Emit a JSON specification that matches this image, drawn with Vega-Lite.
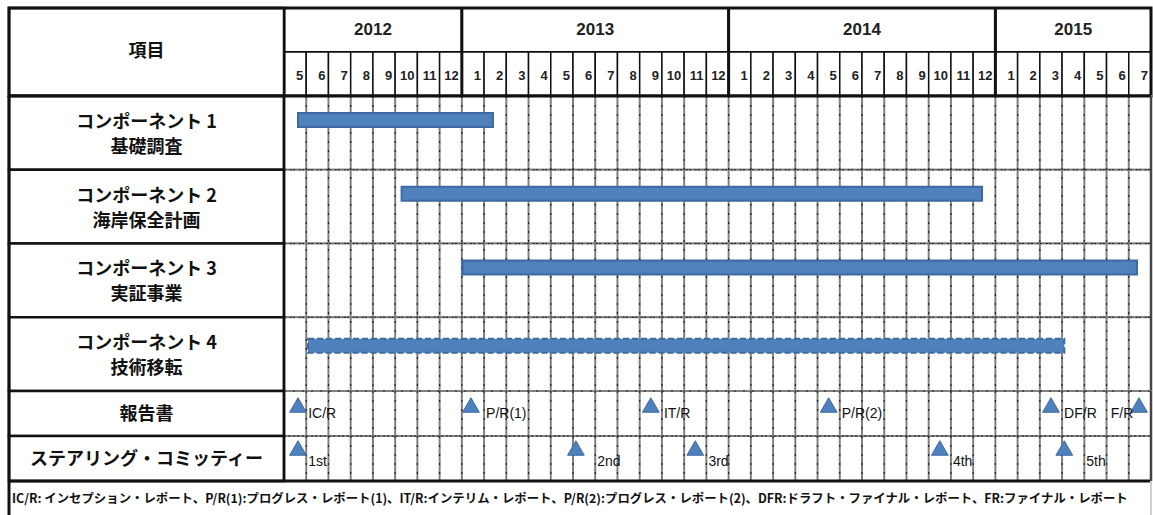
{
  "$schema": "https://vega.github.io/schema/vega-lite/v6.json",
  "padding": {"left": 7, "top": 6, "right": 3, "bottom": 0},
  "background": "white",
  "spacing": 0,
  "bounds": "flush",
  "config": {"view": {"stroke": null}, "concat": {"spacing": 0}},
  "datasets": {
    "frame": [{"part": "frame"}],
    "header": [{"t": "項目"}],
    "years": [
      {"yr": "2012", "s": 0, "e": 8, "c": 4},
      {"yr": "2013", "s": 8, "e": 20, "c": 14},
      {"yr": "2014", "s": 20, "e": 32, "c": 26},
      {"yr": "2015", "s": 32, "e": 39, "c": 35.5}
    ],
    "months": [
      {"m": "5", "s": 0, "e": 1}, {"m": "6", "s": 1, "e": 2}, {"m": "7", "s": 2, "e": 3}, {"m": "8", "s": 3, "e": 4},
      {"m": "9", "s": 4, "e": 5}, {"m": "10", "s": 5, "e": 6}, {"m": "11", "s": 6, "e": 7}, {"m": "12", "s": 7, "e": 8},
      {"m": "1", "s": 8, "e": 9}, {"m": "2", "s": 9, "e": 10}, {"m": "3", "s": 10, "e": 11}, {"m": "4", "s": 11, "e": 12},
      {"m": "5", "s": 12, "e": 13}, {"m": "6", "s": 13, "e": 14}, {"m": "7", "s": 14, "e": 15}, {"m": "8", "s": 15, "e": 16},
      {"m": "9", "s": 16, "e": 17}, {"m": "10", "s": 17, "e": 18}, {"m": "11", "s": 18, "e": 19}, {"m": "12", "s": 19, "e": 20},
      {"m": "1", "s": 20, "e": 21}, {"m": "2", "s": 21, "e": 22}, {"m": "3", "s": 22, "e": 23}, {"m": "4", "s": 23, "e": 24},
      {"m": "5", "s": 24, "e": 25}, {"m": "6", "s": 25, "e": 26}, {"m": "7", "s": 26, "e": 27}, {"m": "8", "s": 27, "e": 28},
      {"m": "9", "s": 28, "e": 29}, {"m": "10", "s": 29, "e": 30}, {"m": "11", "s": 30, "e": 31}, {"m": "12", "s": 31, "e": 32},
      {"m": "1", "s": 32, "e": 33}, {"m": "2", "s": 33, "e": 34}, {"m": "3", "s": 34, "e": 35}, {"m": "4", "s": 35, "e": 36},
      {"m": "5", "s": 36, "e": 37}, {"m": "6", "s": 37, "e": 38}, {"m": "7", "s": 38, "e": 39}
    ],
    "rows": [
      {"row": "c1", "label": "コンポーネント 1\n基礎調査"},
      {"row": "c2", "label": "コンポーネント 2\n海岸保全計画"},
      {"row": "c3", "label": "コンポーネント 3\n実証事業"},
      {"row": "c4", "label": "コンポーネント 4\n技術移転"}
    ],
    "tasks": [
      {"row": "c1", "s": 0.63, "e": 9.4},
      {"row": "c2", "s": 5.29, "e": 31.4},
      {"row": "c3", "s": 8.03, "e": 38.37},
      {"row": "c4", "s": 1.08, "e": 35.1}
    ],
    "msrows": [
      {"row": "報告書", "label": "報告書"},
      {"row": "ステアリング・コミッティー", "label": "ステアリング・コミッティー"}
    ],
    "milestones": [
      {"row": "報告書", "s": 0.63, "tx": 1, "label": "IC/R"},
      {"row": "報告書", "s": 8.41, "tx": 9, "label": "P/R(1)"},
      {"row": "報告書", "s": 16.5, "tx": 17, "label": "IT/R"},
      {"row": "報告書", "s": 24.5, "tx": 25, "label": "P/R(2)"},
      {"row": "報告書", "s": 34.5, "tx": 35, "label": "DF/R"},
      {"row": "報告書", "s": 38.46, "tx": 37.1, "label": "F/R"},
      {"row": "ステアリング・コミッティー", "s": 0.63, "tx": 1, "label": "1st"},
      {"row": "ステアリング・コミッティー", "s": 13.13, "tx": 14, "label": "2nd"},
      {"row": "ステアリング・コミッティー", "s": 18.5, "tx": 19, "label": "3rd"},
      {"row": "ステアリング・コミッティー", "s": 29.5, "tx": 30, "label": "4th"},
      {"row": "ステアリング・コミッティー", "s": 35.1, "tx": 36, "label": "5th"}
    ],
    "note": [
      {"t": "IC/R: インセプション・レポート、P/R(1):プログレス・レポート(1)、IT/R:インテリム・レポート、P/R(2):プログレス・レポート(2)、DFR:ドラフト・ファイナル・レポート、FR:ファイナル・レポート"}
    ]
  },
  "vconcat": [
    {
      "width": 1142,
      "height": 88,
      "layer": [
        {
          "data": {"name": "years"},
          "mark": {"type": "rect", "fill": "white", "stroke": "black", "strokeWidth": 2},
          "encoding": {
            "x": {"field": "s", "type": "quantitative", "scale": {"domain": [-12.37, 39], "nice": false, "zero": false}, "axis": null},
            "x2": {"field": "e"},
            "y": {"datum": "年", "type": "nominal", "scale": {"domain": ["年", "月"], "paddingInner": 0, "paddingOuter": 0}, "axis": null}
          }
        },
        {
          "data": {"name": "months"},
          "mark": {"type": "rect", "fill": "white", "stroke": "#111", "strokeWidth": 1.5},
          "encoding": {
            "x": {"field": "s", "type": "quantitative"},
            "x2": {"field": "e"},
            "y": {"datum": "月", "type": "nominal"}
          }
        },
        {
          "data": {"name": "years"},
          "mark": {"type": "rule", "color": "#111", "strokeWidth": 3},
          "encoding": {"x": {"field": "s", "type": "quantitative"}}
        },
        {
          "data": {"name": "header"},
          "mark": {"type": "rect", "fill": "white", "stroke": "#111", "strokeWidth": 2.5},
          "encoding": {
            "x": {"datum": -12.37, "type": "quantitative"},
            "x2": {"datum": 0}
          }
        },
        {
          "data": {"name": "header"},
          "mark": {"type": "text", "font": "Noto Sans CJK JP", "fontWeight": "bold", "fontSize": 18, "color": "#111"},
          "encoding": {
            "x": {"datum": -6.185, "type": "quantitative"},
            "text": {"field": "t"}
          }
        },
        {
          "data": {"name": "years"},
          "mark": {"type": "text", "font": "Liberation Sans", "fontWeight": "bold", "fontSize": 17, "color": "#222"},
          "encoding": {
            "x": {"field": "c", "type": "quantitative"},
            "y": {"datum": "年", "type": "nominal"},
            "text": {"field": "yr"}
          }
        },
        {
          "data": {"name": "months"},
          "mark": {"type": "text", "font": "Liberation Sans", "fontWeight": "bold", "fontSize": 13, "color": "#222", "align": "right", "dx": -3, "dy": 2},
          "encoding": {
            "x": {"field": "e", "type": "quantitative"},
            "y": {"datum": "月", "type": "nominal"},
            "text": {"field": "m"}
          }
        },
        {
          "data": {"name": "frame"},
          "mark": {"type": "rect", "filled": false, "stroke": "#111", "strokeWidth": 3},
          "encoding": {
            "x": {"datum": -12.37, "type": "quantitative"},
            "x2": {"datum": 39}
          }
        }
      ]
    },
    {
      "width": 1142,
      "height": 295,
      "layer": [
        {
          "data": {"name": "rows"},
          "mark": {"type": "rect", "fill": "white", "stroke": "#808080", "strokeWidth": 2},
          "encoding": {
            "x": {"datum": 0, "type": "quantitative", "scale": {"domain": [-12.37, 39], "nice": false, "zero": false}, "axis": null},
            "x2": {"datum": 39},
            "y": {"field": "row", "type": "nominal", "scale": {"domain": ["c1", "c2", "c3", "c4"], "paddingInner": 0, "paddingOuter": 0}, "axis": null}
          }
        },
        {
          "data": {"name": "months"},
          "mark": {"type": "rule", "color": "#808080", "strokeWidth": 2},
          "encoding": {"x": {"field": "s", "type": "quantitative"}}
        },
        {
          "data": {"name": "months"},
          "mark": {"type": "rule", "color": "#222", "strokeWidth": 1.2, "strokeDash": [2, 7]},
          "encoding": {"x": {"field": "s", "type": "quantitative"}}
        },
        {
          "data": {"name": "rows"},
          "mark": {"type": "rect", "filled": false, "stroke": "#222", "strokeWidth": 1.2, "strokeDash": [2, 7]},
          "encoding": {
            "x": {"datum": 0, "type": "quantitative"},
            "x2": {"datum": 39},
            "y": {"field": "row", "type": "nominal"}
          }
        },
        {
          "data": {"name": "rows"},
          "mark": {"type": "rect", "fill": "white", "stroke": "#111", "strokeWidth": 2.5},
          "encoding": {
            "x": {"datum": -12.37, "type": "quantitative"},
            "x2": {"datum": 0},
            "y": {"field": "row", "type": "nominal"}
          }
        },
        {
          "data": {"name": "rows"},
          "mark": {"type": "text", "font": "Noto Sans CJK JP", "fontWeight": "bold", "fontSize": 18, "color": "#111", "lineBreak": "\n", "lineHeight": 25, "dy": -10},
          "encoding": {
            "x": {"datum": -6.185, "type": "quantitative"},
            "y": {"field": "row", "type": "nominal"},
            "text": {"field": "label"}
          }
        },
        {
          "data": {"name": "tasks"},
          "transform": [{"filter": "datum.row != 'c4'"}],
          "mark": {"type": "bar", "size": 14, "yOffset": -13, "fill": "#4f81bd", "stroke": "#3e6a9f", "strokeWidth": 2},
          "encoding": {
            "x": {"field": "s", "type": "quantitative"},
            "x2": {"field": "e"},
            "y": {"field": "row", "type": "nominal"}
          }
        },
        {
          "data": {"name": "tasks"},
          "transform": [{"filter": "datum.row == 'c4'"}],
          "mark": {"type": "bar", "size": 14, "yOffset": -8.5, "fill": "#4f81bd", "stroke": "#3e6a9f", "strokeWidth": 2, "strokeDash": [6, 3]},
          "encoding": {
            "x": {"field": "s", "type": "quantitative"},
            "x2": {"field": "e"},
            "y": {"field": "row", "type": "nominal"}
          }
        },
        {
          "data": {"name": "frame"},
          "mark": {"type": "rule", "color": "#111", "strokeWidth": 3},
          "encoding": {
            "x": {"datum": -12.37, "type": "quantitative"},
            "x2": {"datum": 39},
            "y": {"datum": "c1", "type": "nominal", "bandPosition": 0}
          }
        },
        {
          "data": {"name": "frame"},
          "mark": {"type": "rule", "color": "#111", "strokeWidth": 2.5},
          "encoding": {"x": {"datum": 0, "type": "quantitative"}}
        },
        {
          "data": {"name": "frame"},
          "mark": {"type": "rule", "color": "#111", "strokeWidth": 3},
          "encoding": {"x": {"datum": -12.37, "type": "quantitative"}}
        },
        {
          "data": {"name": "frame"},
          "mark": {"type": "rule", "color": "#444", "strokeWidth": 2.5},
          "encoding": {"x": {"datum": 39, "type": "quantitative"}}
        }
      ]
    },
    {
      "width": 1142,
      "height": 90,
      "layer": [
        {
          "data": {"name": "msrows"},
          "mark": {"type": "rect", "fill": "white", "stroke": "#808080", "strokeWidth": 2},
          "encoding": {
            "x": {"datum": 0, "type": "quantitative", "scale": {"domain": [-12.37, 39], "nice": false, "zero": false}, "axis": null},
            "x2": {"datum": 39},
            "y": {"field": "row", "type": "nominal", "scale": {"domain": ["報告書", "ステアリング・コミッティー"], "paddingInner": 0, "paddingOuter": 0}, "axis": null}
          }
        },
        {
          "data": {"name": "months"},
          "mark": {"type": "rule", "color": "#808080", "strokeWidth": 2},
          "encoding": {"x": {"field": "s", "type": "quantitative"}}
        },
        {
          "data": {"name": "months"},
          "mark": {"type": "rule", "color": "#222", "strokeWidth": 1.2, "strokeDash": [2, 7]},
          "encoding": {"x": {"field": "s", "type": "quantitative"}}
        },
        {
          "data": {"name": "msrows"},
          "mark": {"type": "rect", "filled": false, "stroke": "#222", "strokeWidth": 1.2, "strokeDash": [2, 7]},
          "encoding": {
            "x": {"datum": 0, "type": "quantitative"},
            "x2": {"datum": 39},
            "y": {"field": "row", "type": "nominal"}
          }
        },
        {
          "data": {"name": "msrows"},
          "mark": {"type": "rect", "fill": "white", "stroke": "#111", "strokeWidth": 2.5},
          "encoding": {
            "x": {"datum": -12.37, "type": "quantitative"},
            "x2": {"datum": 0},
            "y": {"field": "row", "type": "nominal"}
          }
        },
        {
          "data": {"name": "msrows"},
          "mark": {"type": "text", "font": "Noto Sans CJK JP", "fontWeight": "bold", "fontSize": 18, "color": "#111", "dy": 1},
          "encoding": {
            "x": {"datum": -6.185, "type": "quantitative"},
            "y": {"field": "row", "type": "nominal"},
            "text": {"field": "label"}
          }
        },
        {
          "data": {"name": "milestones"},
          "transform": [{"filter": "datum.row == '報告書'"}],
          "mark": {"type": "point", "shape": "triangle-up", "filled": true, "size": 280, "yOffset": -8.5, "fill": "#4f81bd", "stroke": "#3e6a9f", "strokeWidth": 1, "opacity": 1},
          "encoding": {
            "x": {"field": "s", "type": "quantitative"},
            "y": {"field": "row", "type": "nominal"}
          }
        },
        {
          "data": {"name": "milestones"},
          "transform": [{"filter": "datum.row != '報告書'"}],
          "mark": {"type": "point", "shape": "triangle-up", "filled": true, "size": 280, "yOffset": -10.5, "fill": "#4f81bd", "stroke": "#3e6a9f", "strokeWidth": 1, "opacity": 1},
          "encoding": {
            "x": {"field": "s", "type": "quantitative"},
            "y": {"field": "row", "type": "nominal"}
          }
        },
        {
          "data": {"name": "milestones"},
          "transform": [{"filter": "datum.row == '報告書'"}],
          "mark": {"type": "text", "font": "Liberation Sans", "fontSize": 14, "color": "#111", "align": "left", "dx": 2, "dy": 0},
          "encoding": {
            "x": {"field": "tx", "type": "quantitative"},
            "y": {"field": "row", "type": "nominal"},
            "text": {"field": "label"}
          }
        },
        {
          "data": {"name": "milestones"},
          "transform": [{"filter": "datum.row != '報告書'"}],
          "mark": {"type": "text", "font": "Liberation Sans", "fontSize": 14, "color": "#111", "align": "left", "dx": 2, "dy": 3},
          "encoding": {
            "x": {"field": "tx", "type": "quantitative"},
            "y": {"field": "row", "type": "nominal"},
            "text": {"field": "label"}
          }
        },
        {
          "data": {"name": "frame"},
          "mark": {"type": "rule", "color": "#111", "strokeWidth": 3},
          "encoding": {
            "x": {"datum": -12.37, "type": "quantitative"},
            "x2": {"datum": 39},
            "y": {"datum": "ステアリング・コミッティー", "type": "nominal", "bandPosition": 1}
          }
        },
        {
          "data": {"name": "frame"},
          "mark": {"type": "rule", "color": "#111", "strokeWidth": 2.5},
          "encoding": {"x": {"datum": 0, "type": "quantitative"}}
        },
        {
          "data": {"name": "frame"},
          "mark": {"type": "rule", "color": "#111", "strokeWidth": 3},
          "encoding": {"x": {"datum": -12.37, "type": "quantitative"}}
        },
        {
          "data": {"name": "frame"},
          "mark": {"type": "rule", "color": "#444", "strokeWidth": 2.5},
          "encoding": {"x": {"datum": 39, "type": "quantitative"}}
        }
      ]
    },
    {
      "width": 1142,
      "height": 35,
      "layer": [
        {
          "data": {"name": "note"},
          "mark": {"type": "text", "font": "Noto Sans CJK JP", "fontWeight": "bold", "fontSize": 12.4, "color": "#111", "align": "left", "dx": 3},
          "encoding": {
            "x": {"datum": -12.37, "type": "quantitative", "scale": {"domain": [-12.37, 39], "nice": false, "zero": false}, "axis": null},
            "text": {"field": "t"}
          }
        },
        {
          "data": {"name": "frame"},
          "mark": {"type": "rule", "color": "#111", "strokeWidth": 3},
          "encoding": {"x": {"datum": -12.37, "type": "quantitative"}}
        },
        {
          "data": {"name": "frame"},
          "mark": {"type": "rule", "color": "#d0d0d0", "strokeWidth": 2},
          "encoding": {"x": {"datum": 39, "type": "quantitative"}}
        }
      ]
    }
  ]
}
